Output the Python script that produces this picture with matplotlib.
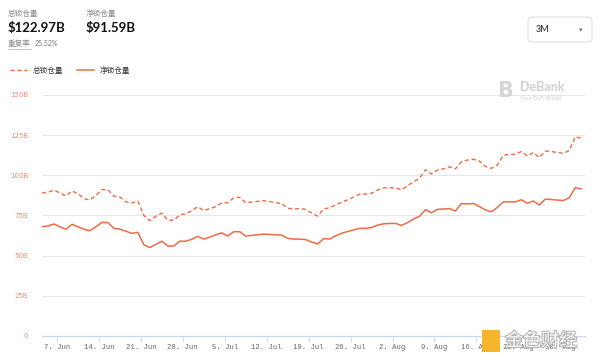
import numpy as np
import pandas as pd
import matplotlib
matplotlib.use("Agg")
import matplotlib.pyplot as plt
from matplotlib.lines import Line2D
from matplotlib.patches import FancyBboxPatch, Rectangle
import matplotlib.patheffects as pe

plt.rcParams['font.family'] = ['Noto Sans CJK SC', 'DejaVu Sans']

# ---- data (billions USD) ----
start_date = "2021-06-04 12:00"
total_tvl = [89.0, 89.5, 90.8, 89.0, 87.1, 90.3, 88.5, 85.5, 84.6, 87.5,
             91.2, 91.0, 87.0, 86.5, 83.5, 82.8, 84.0, 75.0, 71.8, 74.5,
             76.5, 72.0, 72.0, 75.5, 76.0, 78.0, 80.5, 78.0, 79.2, 80.5,
             82.9, 82.9, 86.0, 86.3, 83.0, 83.3, 83.8, 84.2, 83.7, 82.9,
             82.5, 79.5, 79.0, 79.3, 78.8, 76.5, 74.6, 79.0, 79.8, 81.5,
             83.3, 84.7, 86.5, 88.3, 88.3, 88.8, 90.8, 92.2, 92.2, 92.2,
             91.0, 93.5, 96.0, 98.2, 103.5, 100.8, 103.3, 104.0, 105.3, 104.0,
             108.5, 109.5, 110.0, 108.8, 105.5, 104.3, 106.4, 112.5, 113.0, 113.0,
             114.8, 112.0, 114.2, 111.0, 115.1, 114.8, 114.2, 113.6, 115.5, 124.0,
             123.0]
net_tvl = [68.0, 68.5, 69.7, 68.0, 66.4, 69.5, 68.0, 66.5, 65.5, 68.0,
           70.7, 70.6, 67.0, 66.5, 65.2, 63.9, 64.5, 56.8, 55.0, 57.0,
           59.0, 56.0, 56.0, 59.0, 59.0, 60.2, 62.0, 60.3, 61.5, 63.0,
           64.2, 62.2, 64.9, 64.9, 62.2, 62.6, 63.0, 63.4, 63.2, 63.0,
           62.8, 60.8, 60.3, 60.3, 60.0, 58.5, 57.2, 60.6, 60.3, 62.3,
           63.9, 65.0, 66.0, 67.0, 67.0, 67.5, 69.0, 69.8, 70.0, 70.1,
           68.8, 70.5, 72.8, 74.5, 78.6, 76.7, 78.8, 79.0, 79.3, 77.8,
           82.4, 82.2, 82.5, 80.5, 78.5, 77.3, 80.0, 83.5, 83.5, 83.5,
           84.8, 82.6, 84.0, 81.5, 85.2, 84.9, 84.6, 84.3, 86.0, 92.3,
           91.6]
dates = pd.date_range(start_date, periods=len(total_tvl), freq="D")

y_ticks = [0, 25, 50, 75, 100, 125, 150]
y_tick_labels = ["0", "25B", "50B", "75B", "100B", "125B", "150B"]
x_tick_dates = pd.date_range("2021-06-07", "2021-08-30", freq="7D")
x_tick_labels = [f"{d.day}. {d.strftime('%b')}" for d in x_tick_dates]

legend_labels = ["总锁仓量", "净锁仓量"]
header_values = ["$122.97B", "$91.59B"]
dup_label = "重复率"
dup_value = "25.52%"
range_label = "3M"

LINE = "#f06a45"

fig = plt.figure(figsize=(6.0, 3.63), dpi=100)
ax = fig.add_axes([0.07, 0.0744, 0.905, 0.664])

ax.plot(dates, total_tvl, color=LINE, lw=1.0, linestyle=(0, (3, 2)))
ax.plot(dates, net_tvl, color=LINE, lw=1.1)

ax.set_ylim(0, 150)
ax.set_xlim(pd.Timestamp("2021-06-04 12:00"), pd.Timestamp("2021-09-03 03:00"))
ax.set_yticks(y_ticks)
ax.set_yticklabels(y_tick_labels, color="#f08a7a", fontsize=5, family="DejaVu Sans")
ax.set_xticks(x_tick_dates)
ax.set_xticklabels(x_tick_labels, color="#666666", fontsize=5.2, family="Liberation Mono")
ax.tick_params(axis="y", length=0, pad=10)
ax.tick_params(axis="x", length=4, width=0.6, color="#ccd6eb", pad=2)
for lbl in ax.get_yticklabels():
    lbl.set_horizontalalignment("right")
ax.grid(axis="y", color="#e6e6e6", lw=0.8)
ax.set_axisbelow(True)
for s in ["top", "right", "left"]:
    ax.spines[s].set_visible(False)
ax.spines["bottom"].set_color("#ccd6eb")
ax.spines["bottom"].set_linewidth(0.8)

# ---- header texts ----
def fy(py):
    return 1 - py / 363.0

def fx(px):
    return px / 600.0

fig.text(fx(8), fy(14), legend_labels[0], fontsize=5.5, color="#8a8a8a", va="center")
fig.text(fx(86), fy(14), legend_labels[1], fontsize=5.5, color="#8a8a8a", va="center")
fig.text(fx(8), fy(28), header_values[0], fontsize=9.5, color="#111111", va="center",
         family="Lato", weight="bold")
fig.text(fx(86), fy(28), header_values[1], fontsize=9.5, color="#111111", va="center",
         family="Lato", weight="bold")
fig.text(fx(8), fy(44), dup_label, fontsize=5.5, color="#8a8a8a", va="center")
fig.add_artist(Line2D([fx(8), fx(31)], [fy(49), fy(49)], color="#aaaaaa", lw=0.5))
fig.text(fx(35), fy(44), dup_value, fontsize=5, color="#777777", va="center", family="Lato")

# ---- legend ----
handles = [Line2D([], [], color=LINE, lw=1.0, linestyle=(0, (3, 2))),
           Line2D([], [], color=LINE, lw=1.1)]
fig.legend(handles, legend_labels, loc="center left", bbox_to_anchor=(fx(10), fy(71)),
           ncol=2, frameon=False, fontsize=5.5, handlelength=2.2, handletextpad=0.8,
           columnspacing=1.8, labelcolor="#333333", borderpad=0, borderaxespad=0)

# ---- range selector ----
box = FancyBboxPatch((fx(528), fy(42)), fx(64), fy(17) - fy(42),
                     boxstyle="round,pad=0,rounding_size=0.008",
                     transform=fig.transFigure, facecolor="white",
                     edgecolor="#d9d9d9", lw=0.7)
fig.add_artist(box)
fig.text(fx(536), fy(30), range_label, fontsize=6.5, color="#222222", va="center", family="Lato")
fig.text(fx(581), fy(30), "▾", fontsize=5, color="#777777", va="center", ha="center",
         family="DejaVu Sans")

# ---- DeBank watermark ----
fig.text(fx(505), fy(91), "B", fontsize=15, color="#d5d5d5", weight="bold",
         va="center", ha="center", family="DejaVu Sans")
fig.text(fx(520), fy(87), "DeBank", fontsize=9, color="#d0d0d0", weight="bold",
         va="center", family="Lato")
fig.text(fx(520), fy(98), "Your DeFi Wallet", fontsize=4, color="#d0d0d0",
         va="center", family="Lato")

# ---- 金色财经 watermark ----
fig.add_artist(Rectangle((fx(482), fy(352)), fx(18), fy(330) - fy(352),
                         transform=fig.transFigure, facecolor="#f6b52a", edgecolor="none"))
t = fig.text(fx(505), fy(341), "金色财经", fontsize=13, color="white", va="center",
             family="Noto Sans CJK SC")
t.set_path_effects([pe.withStroke(linewidth=1.5, foreground="#b0b0b0")])

fig.savefig("out.png", dpi=100)
